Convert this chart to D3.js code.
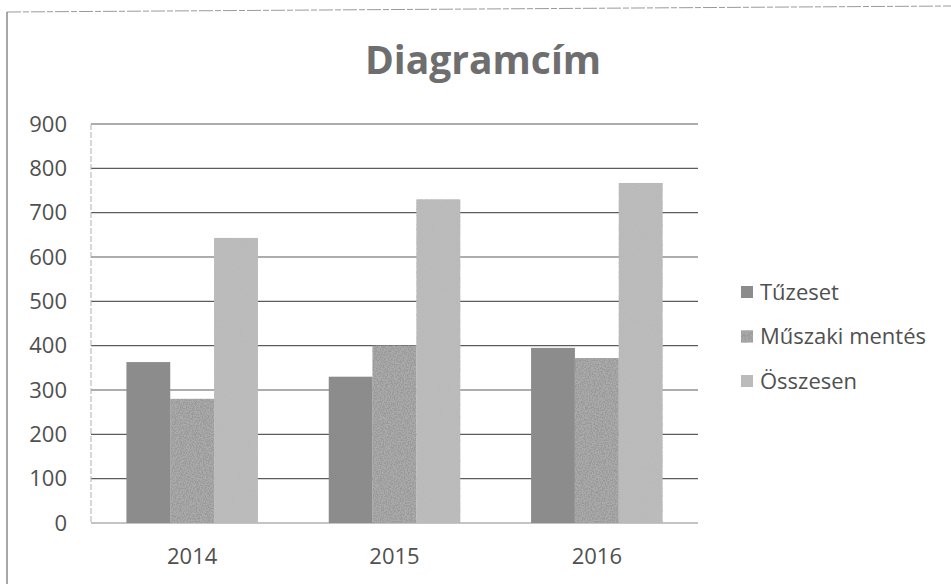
<!DOCTYPE html>
<html>
<head>
<meta charset="utf-8">
<script src="https://cdn.jsdelivr.net/npm/d3@7"></script>
<style>
  body { margin: 0; background: #fff; }
  svg { display: block; font-family: 'Open Sans', sans-serif; }
</style>
</head>
<body>
<svg id="chart" width="951" height="584"></svg>
<script>
const years = ['2014', '2015', '2016']
const seriesNames = ['Tűzeset', 'Műszaki mentés', 'Összesen']
const tuzeset = [363, 330, 395]
const muszaki = [280, 400, 372]
const osszesen = [643, 730, 767]
const yTicks = [0, 100, 200, 300, 400, 500, 600, 700, 800, 900]

const seriesValues = [tuzeset, muszaki, osszesen]
const fills = ['#8c8c8c', '#9a9a9a', '#bababa']
const speckle = [null, 'url(#speckDark)', 'url(#speckLight)']

const svg = d3.select('#chart')
const plotLeft = 91
const plotRight = 698
const plotTop = 124
const plotBottom = 523

// speckled texture like the scanned print
const defs = svg.append('defs')
const mkFilter = (id, dark, cut) => {
  const f = defs.append('filter').attr('id', id)
    .attr('x', 0).attr('y', 0).attr('width', 1).attr('height', 1)
  f.append('feTurbulence').attr('type', 'fractalNoise')
    .attr('baseFrequency', 0.7).attr('numOctaves', 2).attr('seed', 3).attr('result', 'n')
  f.append('feColorMatrix').attr('in', 'n').attr('type', 'matrix')
    .attr('values', `0 0 0 0 ${dark}  0 0 0 0 ${dark}  0 0 0 0 ${dark}  5 0 0 0 ${cut}`)
    .attr('result', 'dots')
  f.append('feComposite').attr('in', 'dots').attr('in2', 'SourceGraphic')
    .attr('operator', 'in').attr('result', 'd2')
  const m = f.append('feMerge')
  m.append('feMergeNode').attr('in', 'SourceGraphic')
  m.append('feMergeNode').attr('in', 'd2')
}
mkFilter('speckDark', 0.4, -1.9)
mkFilter('speckLight', 0.5, -2.2)

// outer chart border (left + top edges visible in the scan)
svg.append('line').attr('x1', 7).attr('x2', 951).attr('y1', 12).attr('y2', 6)
  .attr('stroke', '#9a9a9a').attr('stroke-width', 1).attr('stroke-dasharray', '14 2 6 2')
svg.append('line').attr('x1', 7).attr('x2', 7).attr('y1', 12).attr('y2', 584)
  .attr('stroke', '#8a8a8a').attr('stroke-width', 1.5)

// title
svg.append('text')
  .attr('x', 483).attr('y', 74)
  .attr('text-anchor', 'middle')
  .attr('font-size', 39).attr('font-weight', 'bold')
  .attr('fill', '#6e6e6e')
  .text('Diagramcím')

const y = d3.scaleLinear().domain([0, 900]).range([plotBottom, plotTop])
const x0 = d3.scaleBand().domain(years).range([plotLeft, plotRight])
  .paddingInner(0.35).paddingOuter(0.175)
const x1 = d3.scaleBand().domain(seriesNames).range([0, x0.bandwidth()])

// gridlines
svg.append('g')
  .selectAll('line')
  .data(yTicks)
  .enter().append('line')
  .attr('x1', plotLeft).attr('x2', plotRight)
  .attr('y1', d => y(d)).attr('y2', d => y(d))
  .attr('stroke', d => d === 0 ? '#8a8a8a' : '#5c5c5c')
  .attr('stroke-width', 1.2)

// plot area left edge
svg.append('line').attr('x1', plotLeft).attr('x2', plotLeft).attr('y1', plotTop).attr('y2', plotBottom)
  .attr('stroke', '#b0b0b0').attr('stroke-dasharray', '6 2')

// y labels
svg.append('g')
  .selectAll('text')
  .data(yTicks)
  .enter().append('text')
  .attr('x', 67).attr('y', d => y(d))
  .attr('dy', '0.35em')
  .attr('text-anchor', 'end')
  .attr('font-size', 22)
  .attr('fill', '#505050')
  .text(d => d)

// bars
const groups = svg.append('g')
  .selectAll('g')
  .data(years)
  .enter().append('g')
  .attr('transform', d => `translate(${x0(d)},0)`)

groups.selectAll('rect')
  .data((d, i) => seriesNames.map((s, j) => ({ s, j, v: seriesValues[j][i] })))
  .enter().append('rect')
  .attr('x', d => x1(d.s))
  .attr('width', x1.bandwidth())
  .attr('y', d => y(d.v))
  .attr('height', d => y(0) - y(d.v))
  .attr('fill', d => fills[d.j])
  .attr('filter', d => speckle[d.j])

// x labels
svg.append('g')
  .selectAll('text')
  .data(years)
  .enter().append('text')
  .attr('x', d => x0(d) + x0.bandwidth() / 2)
  .attr('y', 556)
  .attr('dy', '0.35em')
  .attr('text-anchor', 'middle')
  .attr('font-size', 22)
  .attr('fill', '#505050')
  .text(d => d)

// legend
const legend = svg.append('g')
  .selectAll('g')
  .data(seriesNames)
  .enter().append('g')
  .attr('transform', (d, i) => `translate(741,${292 + i * 44.5})`)

legend.append('rect')
  .attr('x', 0).attr('y', -6).attr('width', 12).attr('height', 12)
  .attr('fill', (d, i) => fills[i])
  .attr('filter', (d, i) => speckle[i])

legend.append('text')
  .attr('x', 19).attr('dy', '0.35em')
  .attr('font-size', 22)
  .attr('fill', '#505050')
  .text(d => d)
</script>
</body>
</html>
